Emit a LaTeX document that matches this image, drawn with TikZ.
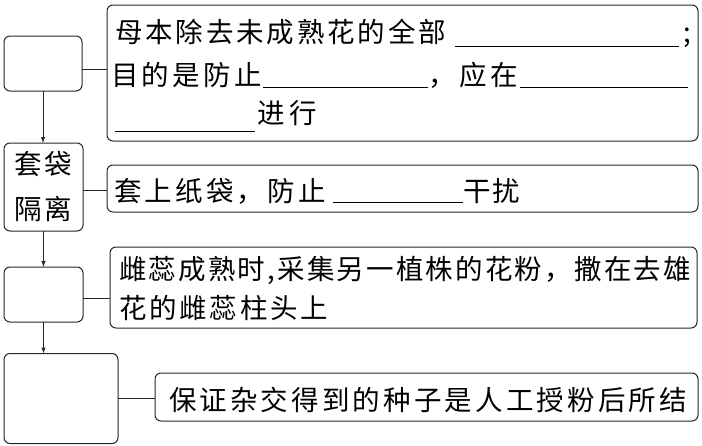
\documentclass[tikz,border=0pt]{standalone}
\usepackage{fontspec}
\newfontfamily\cjk{Noto Sans CJK SC}
\usetikzlibrary{arrows.meta}
\def\spreadaux#1#2\endspread{#1\ifx\relax#2\relax\else\hfil\spreadaux#2\endspread\fi}
\newcommand\seg[2]{\hbox to #1pt{\spreadaux#2\endspread}}
\newcommand\blank[2]{\rule[-#2pt]{#1pt}{0.8pt}}
\begin{document}
\begin{tikzpicture}[x=1pt,y=-1pt,
  box/.style={draw=black!85, line width=1pt, rounded corners=6pt, inner sep=0pt, outer sep=0pt, rectangle},
  txt/.style={inner sep=0pt, outer sep=0pt, anchor=base west, font=\cjk\fontsize{27.5pt}{30pt}\selectfont, text=black},
  link/.style={draw=black!85, line width=1pt},
  arr/.style={link, -{Latex[length=6pt,width=4.5pt]}}]
\useasboundingbox (0,0) rectangle (702,445);
% left column
\node[box, minimum width=78pt, minimum height=55pt] (L1) at (43,63.5) {};
\node[box, minimum width=79pt, minimum height=88pt, align=center,
      font=\cjk\fontsize{27.5pt}{45pt}\selectfont] (L2) at (43.5,187) {\seg{58}{套袋}\\\seg{58}{隔离}};
\node[box, minimum width=79pt, minimum height=55pt] (L3) at (43.5,294.5) {};
\node[box, minimum width=114pt, minimum height=90pt] (L4) at (61,398.5) {};
% right column
\node[box, minimum width=591pt, minimum height=136pt] (R1) at (402.5,73) {};
\node[box, minimum width=591pt, minimum height=47pt] (R2) at (402.5,188.5) {};
\node[box, minimum width=587pt, minimum height=81pt] (R3) at (403.5,287.5) {};
\node[box, minimum width=543pt, minimum height=48pt] (R4) at (426.5,397) {};
% connectors
\draw[link] ([yshift=-5.5pt]L1.east) -- ([yshift=-5.5pt]L1.east -| R1.west);
\draw[link] ([yshift=-3pt]L2.east) -- ([yshift=-3pt]L2.east -| R2.west);
\draw[link] ([yshift=-3.5pt]L3.east) -- ([yshift=-3.5pt]L3.east -| R3.west);
\draw[link] (L4.east) -- (L4.east -| R4.west);
\draw[arr] (L1.south) -- (L1.south |- L2.north);
\draw[arr] (L2.south) -- (L2.south |- L3.north);
\draw[arr] (L3.south) -- (L3.south |- L4.north);
% texts
\node[txt] (r1a) at (115,42) {\seg{331}{母本除去未成熟花的全部}\hspace{9pt}\blank{224}{5}\hspace{5pt};};
\node[txt] (r1b) at (111,85) {\seg{151}{目的是防止}\hspace{1pt}\blank{165}{3}\seg{90}{，应在}\hspace{2pt}\blank{168}{3}};
\node[txt] (r1c) at (115,123) {\blank{140}{9}\hspace{2pt}\seg{60}{进行}};
\node[txt] (r2a) at (114,201) {\seg{212}{套上纸袋，防止}\hspace{7pt}\blank{130}{2}\hspace{1pt}\seg{56}{干扰}};
\node[txt] (r3a) at (119,279) {\seg{572}{雌蕊成熟时,采集另一植株的花粉，撒在去雄}};
\node[txt] (r3b) at (119,318) {\seg{209}{花的雌蕊柱头上}};
\node[txt] (r4a) at (169,410) {\seg{518}{保证杂交得到的种子是人工授粉后所结}};
\end{tikzpicture}
\end{document}
